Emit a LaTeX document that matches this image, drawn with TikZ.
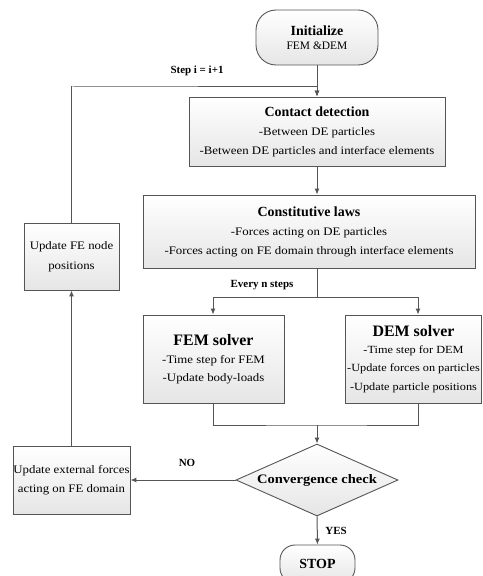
\documentclass[tikz,border=0pt]{standalone}
\usepackage{fontspec}
\setmainfont{Liberation Serif}
\newfontfamily\widefont[FakeStretch=1.12]{Liberation Serif}
\usetikzlibrary{shapes.geometric,arrows.meta}
\definecolor{linec}{HTML}{555555}
\tikzset{
  box/.style={draw=linec, line width=0.9bp, top color=white, bottom color=black!10, align=center, inner sep=1bp, font=\widefont\fontsize{11.5}{19}\selectfont},
  term/.style={box, rounded corners=20bp},
  lab/.style={font=\fontsize{11}{13}\selectfont\bfseries},
  conn/.style={draw=linec, line width=1bp},
  arr/.style={conn, -{Latex[length=6bp,width=5bp]}},
}
\newcommand{\ttlA}[1]{{\rmfamily\fontsize{14}{16}\selectfont\bfseries #1}}
\newcommand{\ttlB}[1]{{\rmfamily\fontsize{16}{17}\selectfont\bfseries #1}}
\begin{document}
\begin{tikzpicture}[x=1bp,y=-1bp]
\useasboundingbox (0,0) rectangle (483,576);
\node[term, minimum width=122bp, minimum height=55bp, font=\fontsize{11.5}{17}\selectfont] (init) at (317,37.5) {{\fontsize{14}{17}\selectfont\bfseries Initialize}\\[-3bp]FEM \&DEM};
\node[box, minimum width=256bp, minimum height=69bp] (contact) at (317,131.5) {\ttlA{Contact detection}\\-Between DE particles\\-Between DE particles and interface elements};
\node[box, minimum width=332bp, minimum height=73bp] (const) at (309,231.5) {\ttlA{Constitutive laws}\\-Forces acting on DE particles\\-Forces acting on FE domain through interface elements};
\node[box, minimum width=141bp, minimum height=88bp] (fem) at (213.5,359) {\ttlB{FEM solver}\\[-1bp]-Time step for FEM\\[-1bp]-Update body-loads};
\node[box, inner xsep=0pt, minimum width=136bp, minimum height=88bp, font=\widefont\fontsize{11}{18.5}\selectfont] (dem) at (413.5,359) {\ttlB{DEM solver}\\[-1.5bp]-Time step for DEM\\-Update forces on particles\\-Update particle positions};
\node[diamond, draw=linec, line width=0.9bp, top color=white, bottom color=black!10, minimum width=162bp, minimum height=72bp, aspect=2.25, inner sep=0pt, font=\widefont\fontsize{13}{15}\selectfont\bfseries] (conv) at (317,480) {Convergence check};
\node[box, inner xsep=0pt, minimum width=117bp, minimum height=68bp, font=\widefont\fontsize{11.5}{19}\selectfont] (ext) at (71.5,480) {Update external forces\\acting on FE domain};
\node[box, minimum width=95bp, minimum height=67bp, font=\widefont\fontsize{11.5}{20}\selectfont] (fenode) at (71.5,256.5) {Update FE node\\positions};
\node[term, rounded corners=15bp, minimum width=75bp, minimum height=38bp] (stop) at (317.5,564) {\rmfamily\fontsize{14}{17}\selectfont\bfseries STOP};

\coordinate (loop) at (72,87);
\coordinate (split) at (317,297);
\coordinate (join) at (317,425);
\coordinate (femx) at (213,297);
\coordinate (demx) at (418,297);

\draw[arr] (init.south) -- (contact.north);
\draw[arr] (fenode.north) |- (loop) -| (contact.north);
\draw[arr] (contact.south) -- (contact.south |- const.north);
\draw[conn] (const.south -| split) -- (split);
\draw[arr] (femx) -- (femx |- fem.north);
\draw[arr] (demx) -- (demx |- dem.north);
\draw[conn] (femx) -- (demx);
\draw[conn] (femx |- fem.south) |- (join) -| (demx |- dem.south);
\draw[arr] (join) -- (conv.north);
\draw[arr] (conv.west) -- (ext.east);
\draw[arr] (ext.north) -- (fenode.south);
\draw[arr] (conv.south) -- (stop.north);

\node[lab] (steplab) at (197,71) {Step i = i+1};
\node[lab] (everylab) at (262,285) {Every n steps};
\node[lab] (nolab) at (187,463) {NO};
\node[lab] (yeslab) at (336,531) {YES};
\end{tikzpicture}
\end{document}
